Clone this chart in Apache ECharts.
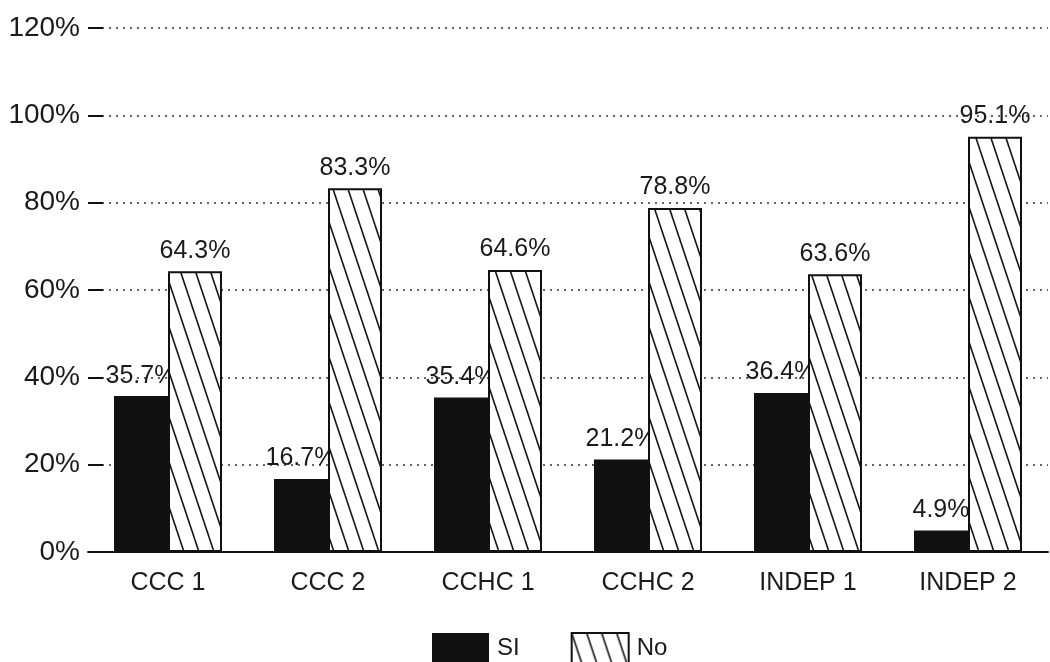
<!DOCTYPE html>
<html>
<head>
<meta charset="utf-8">
<script src="https://cdn.jsdelivr.net/npm/echarts@6/dist/echarts.min.js"></script>
<style>
html,body{margin:0;padding:0;background:#fff;}
#chart{width:1050px;height:662px;}
</style>
</head>
<body>
<div id="chart"></div>
<script>
var categories = ['CCC 1', 'CCC 2', 'CCHC 1', 'CCHC 2', 'INDEP 1', 'INDEP 2'];
var siValues = [35.7, 16.7, 35.4, 21.2, 36.4, 4.9];
var noValues = [64.3, 83.3, 64.6, 78.8, 63.6, 95.1];
var seriesNames = ['SI', 'No'];

function makeHatch() {
  var w = 15, h = 45;
  var c = document.createElement('canvas');
  c.width = w; c.height = h;
  var ctx = c.getContext('2d');
  ctx.fillStyle = '#ffffff';
  ctx.fillRect(0, 0, w, h);
  ctx.strokeStyle = '#111111';
  ctx.lineWidth = 1.6;
  for (var k = -1; k <= 1; k++) {
    ctx.beginPath();
    ctx.moveTo(k * w, 0);
    ctx.lineTo(k * w + w, h);
    ctx.stroke();
  }
  return c;
}

var font = 'Liberation Sans';
var chart = echarts.init(document.getElementById('chart'));
var option = {
  backgroundColor: '#ffffff',
  animation: false,
  textStyle: { fontFamily: font, color: '#1a1a1a' },
  grid: { left: 88, right: 2, top: 28, bottom: 110, containLabel: false },
  legend: {
    data: seriesNames,
    icon: 'rect',
    left: 432,
    top: 632,
    padding: 0,
    itemWidth: 57,
    itemHeight: 30,
    itemGap: 51,
    textStyle: { fontFamily: font, fontSize: 24, color: '#1a1a1a', padding: [6, 0, 0, 3] }
  },
  xAxis: {
    type: 'category',
    data: categories,
    axisLine: { lineStyle: { color: '#111', width: 2 } },
    axisTick: { show: false },
    axisLabel: { fontFamily: font, fontSize: 25, color: '#1a1a1a', margin: 19 }
  },
  yAxis: {
    type: 'value',
    min: 0, max: 120, interval: 20,
    axisLine: { show: false },
    axisTick: { show: true, inside: true, length: 15, lineStyle: { color: '#111', width: 2 } },
    axisLabel: { fontFamily: font, fontSize: 28, color: '#1a1a1a', margin: 8, formatter: '{value}%' },
    splitLine: { show: true, lineStyle: { color: '#333', width: 1.6, type: [2, 5] } }
  },
  series: [
    {
      name: seriesNames[0],
      type: 'bar',
      data: siValues,
      z: 2,
      barWidth: 54,
      barGap: '0%',
      itemStyle: { color: '#111111', borderRadius: 0 },
      label: {
        show: true, position: 'top', distance: 8,
        fontFamily: font, fontSize: 25, color: '#1a1a1a',
        formatter: function (p) { return p.value.toFixed(1) + '%'; }
      }
    },
    {
      name: seriesNames[1],
      type: 'bar',
      data: noValues,
      z: 3,
      barWidth: 54,
      barGap: '0%',
      itemStyle: {
        color: { image: makeHatch(), repeat: 'repeat' },
        borderColor: '#111111',
        borderWidth: 2,
        borderRadius: 0
      },
      label: {
        show: true, position: 'top', distance: 8,
        fontFamily: font, fontSize: 25, color: '#1a1a1a',
        formatter: function (p) { return p.value.toFixed(1) + '%'; }
      }
    }
  ]
};
chart.setOption(option);
</script>
</body>
</html>
